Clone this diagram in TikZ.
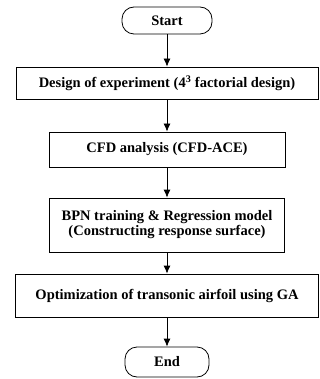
\documentclass[tikz,border=0pt]{standalone}
\usepackage{fontspec}
\setmainfont{Liberation Serif}
\usetikzlibrary{arrows.meta}

\begin{document}
\begin{tikzpicture}[x=1pt,y=-1pt,>={Latex[length=8pt,width=7pt]},
    stepbox/.style={draw,line width=0.8pt,align=center,
      font=\fontsize{14.5}{15}\selectfont\bfseries},
    term/.style={draw,line width=0.8pt,rounded corners=12pt,
      font=\fontsize{14.5}{15}\selectfont\bfseries}]
    \useasboundingbox (0,0) rectangle (320,379);

    \def\cx{167}
    \node[term,minimum width=90pt,minimum height=27pt] (start) at (\cx,20.5) {Start};
    \node[stepbox,minimum width=302pt,minimum height=32pt] (doe) at (\cx,83)
      {Design of experiment (4\textsuperscript{3} factorial design)};
    \node[stepbox,minimum width=236pt,minimum height=35pt] (cfd) at (\cx,149.5)
      {CFD analysis (CFD-ACE)};
    \node[stepbox,minimum width=235pt,minimum height=54pt] (bpn) at (\cx,225)
      {BPN training \& Regression model\\(Constructing response surface)};
    \node[stepbox,minimum width=303pt,minimum height=43pt] (opt) at (\cx,295.5)
      {Optimization of transonic airfoil using GA};
    \node[term,minimum width=84pt,minimum height=30pt] (end) at (\cx,362) {End};

    \draw[->,line width=0.8pt] (start) -- (doe);
    \draw[->,line width=0.8pt] (doe) -- (cfd);
    \draw[->,line width=0.8pt] (cfd) -- (bpn);
    \draw[->,line width=0.8pt] (bpn) -- (opt);
    \draw[->,line width=0.8pt] (opt) -- (end);
\end{tikzpicture}
\end{document}
